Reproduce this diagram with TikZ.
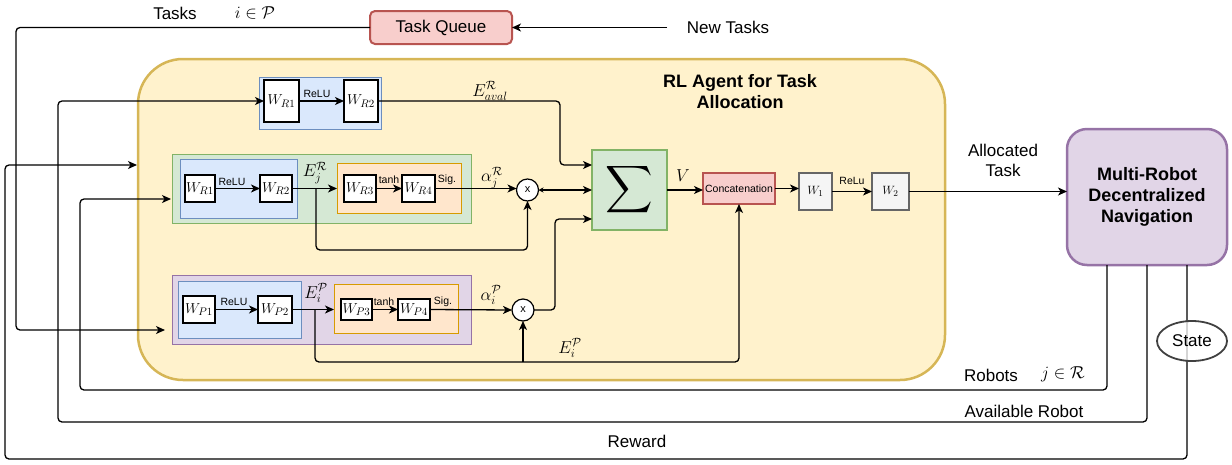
\documentclass[tikz,border=0pt]{standalone}
\usepackage{fontspec}
\setmainfont{Liberation Sans}
\usetikzlibrary{arrows.meta,calc,shapes.geometric}
\definecolor{yfill}{HTML}{FFF2CC}\definecolor{ydraw}{HTML}{D6B656}
\definecolor{gfill}{HTML}{D5E8D4}\definecolor{gdraw}{HTML}{82B366}
\definecolor{bfill}{HTML}{DAE8FC}\definecolor{bdraw}{HTML}{6C8EBF}
\definecolor{ofill}{HTML}{FFE6CC}\definecolor{odraw}{HTML}{D79B00}
\definecolor{pfill}{HTML}{E1D5E7}\definecolor{pdraw}{HTML}{9673A6}
\definecolor{rfill}{HTML}{F8CECC}\definecolor{rdraw}{HTML}{B85450}
\definecolor{kfill}{HTML}{F5F5F5}\definecolor{kdraw}{HTML}{666666}
\begin{document}
\begin{tikzpicture}[x=1pt,y=-1pt,
  every node/.style={inner sep=0pt,outer sep=0pt},
  fs/.style={font=\fontsize{17}{20}\selectfont},
  fb/.style={font=\fontsize{18}{21}\selectfont\bfseries,align=center},
  sm/.style={font=\fontsize{10.5}{12}\selectfont},
  grp/.style 2 args={draw=#1,fill=#2,line width=1pt},
  wbox/.style 2 args={draw=black,fill=white,line width=1.2pt,minimum width=#1,minimum height=#2},
  arr/.style={-{Stealth[length=9pt,width=8pt,inset=2.5pt]},line width=1.3pt,rounded corners=4pt},
  ln/.style={line width=1.3pt,rounded corners=4pt},
  wm/.style={font=\fontsize{15}{15}\selectfont},
  ws/.style={font=\fontsize{13}{13}\selectfont}]
\useasboundingbox (0,0) rectangle (1232,464);

% agent box
\node[draw=ydraw,fill=yfill,line width=2.5pt,rounded corners=45pt,minimum width=807pt,minimum height=321pt] (ag) at (541.5,219.5) {};
\node[fb] (title) at (740,92) {RL Agent for Task\\Allocation};

% task queue
\node[draw=rdraw,fill=rfill,line width=2pt,rounded corners=5pt,minimum width=142pt,minimum height=33pt,fs] (tq) at (441,27.5) {Task Queue};
\node[fs] (nt) at (728,27) {New Tasks};
\coordinate (ntstart) at (667,27.5);

% top row
\node[grp={bdraw}{bfill},minimum width=122pt,minimum height=52pt] (tb) at (320,103) {};
\node[wbox={35pt}{42pt},wm] (ta1) at (281.5,101) {$W_{R1}$};
\node[wbox={34pt}{42pt},wm] (ta2) at (361,101) {$W_{R2}$};

% middle group
\node[grp={gdraw}{gfill},minimum width=299pt,minimum height=69pt] (gg) at (321.5,188.5) {};
\node[grp={bdraw}{bfill},minimum width=117pt,minimum height=59pt] (mb) at (238.5,188.5) {};
\node[grp={odraw}{ofill},minimum width=124pt,minimum height=50pt] (mo) at (399,188) {};
\node[wbox={30pt}{27pt},wm] (ma1) at (200,188.5) {$W_{R1}$};
\node[wbox={32pt}{27pt},wm] (ma2) at (276,188.5) {$W_{R2}$};
\node[wbox={32pt}{27pt},wm] (ma3) at (360,188.5) {$W_{R3}$};
\node[wbox={33pt}{27pt},wm] (ma4) at (418.5,188.5) {$W_{R4}$};
\node[draw=black,fill=white,circle,line width=1.2pt,minimum size=22pt,font=\fontsize{11}{11}\selectfont] (xr) at (527.5,190) {x};

% bottom group
\node[grp={pdraw}{pfill},minimum width=299pt,minimum height=69pt] (pg) at (321.5,309.5) {};
\node[grp={bdraw}{bfill},minimum width=123pt,minimum height=57pt] (pb) at (239.5,309.5) {};
\node[grp={odraw}{ofill},minimum width=124pt,minimum height=49pt] (po) at (396,308.5) {};
\node[wbox={32pt}{27pt},wm] (pa1) at (199,309.5) {$W_{P1}$};
\node[wbox={34pt}{27pt},wm] (pa2) at (275,309.5) {$W_{P2}$};
\node[wbox={31pt}{21pt},wm] (pa3) at (356.5,309.5) {$W_{P3}$};
\node[wbox={32pt}{21pt},wm] (pa4) at (414,309.5) {$W_{P4}$};
\node[draw=black,fill=white,circle,line width=1.2pt,minimum size=22pt,font=\fontsize{11}{11}\selectfont] (xp) at (523,310) {x};

% sigma, concat, W1, W2
\node[grp={gdraw}{gfill},line width=1.5pt,minimum width=75pt,minimum height=80pt] (sig) at (629.5,190) {\scalebox{3.3}{$\displaystyle\sum$}};
\node[grp={rdraw}{rfill},line width=1.2pt,minimum width=72pt,minimum height=31pt,sm] (cc) at (739,188.5) {Concatenation};
\node[draw=kdraw,fill=kfill,line width=1.2pt,minimum width=33pt,minimum height=37pt,ws] (w1) at (815.5,191.5) {$W_1$};
\node[draw=kdraw,fill=kfill,line width=1.2pt,minimum width=37pt,minimum height=37pt,ws] (w2) at (890.5,191.5) {$W_2$};

% multi-robot
\node[draw=pdraw,fill=pfill,line width=2.5pt,rounded corners=20pt,minimum width=160pt,minimum height=136pt,fb] (mr) at (1147,197) {Multi-Robot\\Decentralized\\Navigation};

% coordinates for free ends
\coordinate (tasksin) at (165,330);
\coordinate (rewin) at (137,165);
\coordinate (robin) at (171,199);
\coordinate (brR) at (316,188.5);
\coordinate (brP) at (315,309.5);

% outer loops
\draw[arr] (ntstart) -- (tq.east);
\draw[arr] (tq.west) -| (16,330) -- (tasksin);
\draw[arr] ([xshift=40pt]mr.south) |- (5,459) |- (rewin);
\draw[arr] (mr.south) |- (58,422) |- (ta1.west);
\draw[arr] ([xshift=-40pt]mr.south) |- (80,390) |- (robin);
\node[draw=black!75,fill=white,fill opacity=0.75,text opacity=1,ellipse,line width=1.8pt,minimum width=70pt,minimum height=40pt,fs] (st) at (1192,341) {State};

% top row connectors
\draw[arr] (ta1.east) -- (ta2.west);
\node[sm] (l1) at (317,94) {ReLU};
\draw[arr] (ta2.east) -| (560,165) -- (sig.west |- 0,165);
\node[fs] (eav) at (490,91) {$E^{\mathcal{R}}_{aval}$};

% middle connectors
\draw[arr] (ma1.east) -- (ma2.west);
\node[sm] (l2) at (232,182) {ReLU};
\draw[arr] (ma2.east) -- (mo.west |- ma2.east);
\node[fs] (ejr) at (315,173) {$E^{\mathcal{R}}_{j}$};
\draw[arr] (ma3.east) -- (ma4.west);
\node[sm] (l3) at (389,180) {tanh};
\node[sm] (l4) at (447,180) {Sig.};
\draw[arr] (ma4.east) -- (xr.west |- ma4.east);
\node[fs] (ajr) at (492,178) {$\alpha^{\mathcal{R}}_{j}$};
\draw[arr] (brR) -- (316,250) -| (xr.south);
\draw[line width=1.3pt,{Stealth[length=5pt,width=5pt]}-{Stealth[length=9pt,width=8pt,inset=2.5pt]}] (xr.east) -- (sig.west |- xr.east);

% bottom connectors
\draw[arr] (pa1.east) -- (pa2.west);
\node[sm] (l5) at (234,302) {ReLU};
\draw[arr] (pa2.east) -- (po.west |- pa2.east);
\node[fs] (eip) at (316,293) {$E^{\mathcal{P}}_{i}$};
\draw[arr] (pa3.east) -- (pa4.west);
\node[sm] (l6) at (384,302) {tanh};
\node[sm] (l7) at (443,302) {Sig.};
\draw[arr] (pa4.east) -- (xp.west);
\node[fs] (aip) at (491,295) {$\alpha^{\mathcal{P}}_{i}$};
\draw[arr] (brP) -- (315,362) -| (cc.south);
\draw[arr] (xp.south |- 0,362) -- (xp.south);
\node[fs] (eip2) at (570,348) {$E^{\mathcal{P}}_{i}$};
\draw[arr] (xp.east) -| (555,219) -- (sig.west |- 0,219);

% right side
\draw[arr] (sig.east) -- (cc.west |- sig.east);
\node[fs] (vl) at (683,176) {$V$};
\draw[arr] (cc.east) -- (w1.west |- cc.east);
\draw[arr] (w1.east) -- (w2.west);
\node[sm] (l8) at (852,181) {ReLu};
\draw[arr] (w2.east) -- (mr.west |- w2.east);
\node[fs,align=center] (alt) at (1003,160) {Allocated\\Task};

% labels
\node[fs] (tk) at (175,13) {Tasks};
\node[fs] (ip) at (255,13) {$i\in\mathcal{P}$};
\node[fs] (rb) at (991,375) {Robots};
\node[fs] (jr) at (1063,374) {$j\in\mathcal{R}$};
\node[fs] (avr) at (1024,411) {Available Robot};
\node[fs] (rw) at (637,441) {Reward};
\end{tikzpicture}
\end{document}
